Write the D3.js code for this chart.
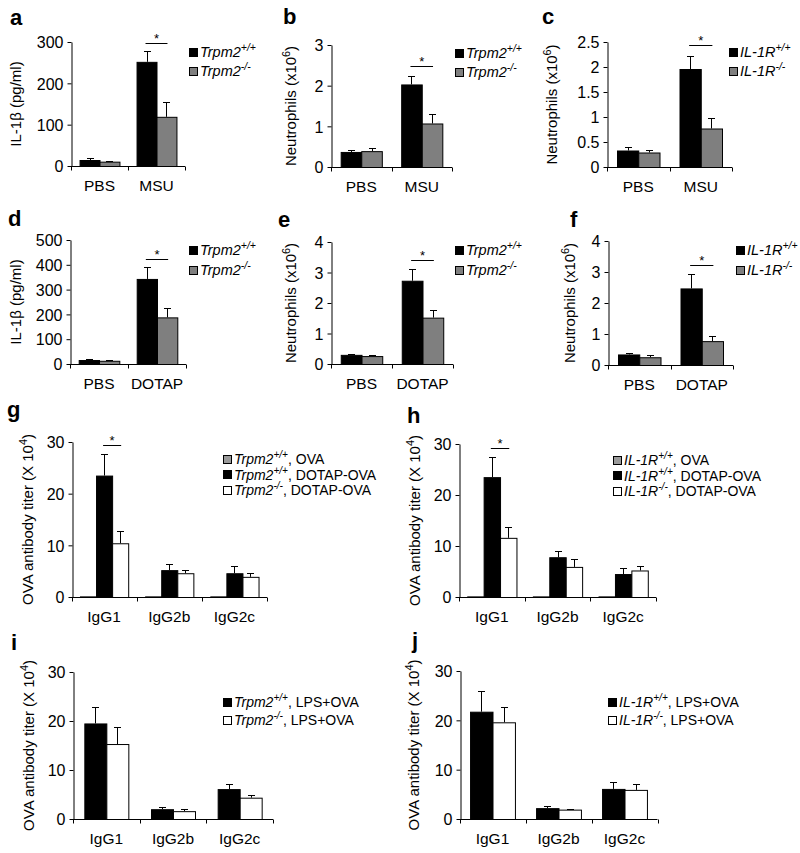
<!DOCTYPE html>
<html><head><meta charset="utf-8">
<script src="https://cdn.jsdelivr.net/npm/d3@7"></script>
<style>
body{margin:0;background:#fff}
svg{display:block}
text{font-family:"Liberation Sans",Arial,Helvetica,sans-serif;fill:#000}
</style>
</head><body>
<svg id="fig" width="800" height="853"></svg>
<script>
// ---------- DATA ----------
const catsMSU = ["PBS", "MSU"];
const catsDOTAP = ["PBS", "DOTAP"];
const catsIg = ["IgG1", "IgG2b", "IgG2c"];

const ticksA = [0, 100, 200, 300];
const ticksB = [0, 1, 2, 3];
const ticksC = [0, 0.5, 1, 1.5, 2, 2.5];
const ticksD = [0, 100, 200, 300, 400, 500];
const ticksEF = [0, 1, 2, 3, 4];
const ticksTiter = [0, 10, 20, 30];

const aWT = [14.5, 252], aWTerr = [4, 27], aKO = [10.5, 119], aKOerr = [2.3, 35];
const bWT = [0.37, 2.03], bWTerr = [0.05, 0.21], bKO = [0.39, 1.07], bKOerr = [0.07, 0.23];
const cWT = [0.33, 1.96], cWTerr = [0.07, 0.26], cKO = [0.29, 0.77], cKOerr = [0.06, 0.22];
const dWT = [16, 343], dWTerr = [4, 47], dKO = [13, 188], dKOerr = [4, 37];
const eWT = [0.30, 2.73], eWTerr = [0.03, 0.38], eKO = [0.26, 1.52], eKOerr = [0.04, 0.25];
const fWT = [0.34, 2.47], fWTerr = [0.04, 0.46], fKO = [0.25, 0.77], fKOerr = [0.06, 0.15];

const gOVA = [0.12, 0.12, 0.12];
const gWT = [23.5, 5.2, 4.6], gWTerr = [4.1, 1.2, 1.4];
const gKO = [10.4, 4.6, 3.9], gKOerr = [2.4, 0.6, 0.7];
const hOVA = [0.12, 0.12, 0.12];
const hWT = [23.5, 7.8, 4.5], hWTerr = [4.0, 1.2, 1.2];
const hKO = [11.6, 5.9, 5.2], hKOerr = [2.1, 1.5, 0.9];
const iWT = [19.5, 2.0, 6.1], iWTerr = [3.3, 0.4, 1.0];
const iKO = [15.3, 1.6, 4.35], iKOerr = [3.5, 0.4, 0.65];
const jWT = [21.75, 2.2, 6.1], jWTerr = [4.2, 0.4, 1.3];
const jKO = [19.6, 1.9, 5.9], jKOerr = [3.2, 0.2, 1.1];

// ---------- TEXT PARTS ----------
const trpWT = [{t:"Trpm2", i:1}, {t:"+/+", i:1, sup:1}];
const trpKO = [{t:"Trpm2", i:1}, {t:"-/-", i:1, sup:1}];
const ilWT = [{t:"IL-1R", i:1}, {t:"+/+", i:1, sup:1}];
const ilKO = [{t:"IL-1R", i:1}, {t:"-/-", i:1, sup:1}];
const ylIL = [{t:"IL-1β (pg/ml)"}];
const ylNeu = [{t:"Neutrophils (x10"}, {t:"6", sup:1}, {t:")"}];
const ylOVA = [{t:"OVA antibody titer (X 10"}, {t:"4", sup:1}, {t:")"}];

const BLACK = "#000000", GRAY = "#7f7f7f", WHITE = "#ffffff", LGRAY = "#9a9a9a";

const svg = d3.select("#fig");

function addParts(text, parts, fs) {
  let shifted = false;
  parts.forEach(p => {
    const t = text.append("tspan").text(p.t);
    if (p.i) t.attr("font-style", "italic");
    if (p.sup) { t.attr("font-size", fs * 0.72).attr("dy", -fs * 0.4); shifted = true; }
    else if (shifted) { t.attr("dy", fs * 0.4); shifted = false; }
  });
}

function drawPanel(c) {
  const g = svg.append("g");
  const x = d3.scaleBand().domain(c.cats).range(c.xr).paddingInner(c.pad).paddingOuter(c.pad / 2);
  const xs = d3.scaleBand().domain(c.series.map(s => s.key)).range([0, x.bandwidth()]);
  const y = d3.scaleLinear().domain([0, c.ymax]).range(c.yr);

  // bars + error bars
  c.series.forEach(s => {
    const data = c.cats.map((cat, i) => ({cat, v: s.vals[i], e: s.errs ? s.errs[i] : 0}));
    const sg = g.append("g");
    sg.selectAll("rect").data(data).join("rect")
      .attr("x", d => x(d.cat) + xs(s.key) + 0.5)
      .attr("y", d => y(d.v) + 0.5)
      .attr("width", xs.bandwidth())
      .attr("height", d => Math.max(0, y(0) - y(d.v)))
      .attr("fill", s.fill).attr("stroke", "#000").attr("stroke-width", 1);
    const eb = data.filter(d => d.e > 0);
    const cx = d => Math.round(x(d.cat) + xs(s.key) + xs.bandwidth() / 2) + 0.5;
    sg.selectAll("line.v").data(eb).join("line").attr("class", "v")
      .attr("x1", cx).attr("x2", cx)
      .attr("y1", d => y(d.v)).attr("y2", d => Math.round(y(d.v + d.e)) + 0.5)
      .attr("stroke", "#000").attr("stroke-width", 1);
    sg.selectAll("line.c").data(eb).join("line").attr("class", "c")
      .attr("x1", d => cx(d) - 3.5).attr("x2", d => cx(d) + 3.5)
      .attr("y1", d => Math.round(y(d.v + d.e)) + 0.5).attr("y2", d => Math.round(y(d.v + d.e)) + 0.5)
      .attr("stroke", "#000").attr("stroke-width", 1);
  });

  // y axis
  const ya = d3.axisLeft(y).tickValues(c.ticks).tickSize(4).tickSizeOuter(0).tickPadding(4)
    .tickFormat(d3.format("~g"));
  const yg = g.append("g").attr("transform", `translate(${Math.round(c.xr[0]) + 0.5},0)`).call(ya);
  yg.selectAll("text").attr("font-size", c.tfs).attr("font-family", null).attr("dy", "0.36em");
  yg.attr("font-family", null);
  yg.selectAll("path,line").attr("stroke", "#000");

  // x axis
  const y0 = Math.round(y(0)) + 0.5;
  g.append("line").attr("x1", c.xr[0]).attr("x2", c.xr[1]).attr("y1", y0).attr("y2", y0)
    .attr("stroke", "#000");
  const bounds = d3.range(c.cats.length + 1).map(i => Math.round(c.xr[0] + i * x.step()) + 0.5);
  g.selectAll("line.xt").data(bounds).join("line").attr("class", "xt")
    .attr("x1", d => d).attr("x2", d => d).attr("y1", y0).attr("y2", y0 + 4).attr("stroke", "#000");
  g.selectAll("text.xl").data(c.cats).join("text").attr("class", "xl")
    .attr("x", d => x(d) + x.bandwidth() / 2).attr("y", y(0) + 25)
    .attr("text-anchor", "middle").attr("font-size", c.xfs).text(d => d);

  // y title
  const yt = g.append("text")
    .attr("transform", `translate(${c.ytx},${(c.yr[0] + c.yr[1]) / 2}) rotate(-90)`)
    .attr("text-anchor", "middle").attr("font-size", 15);
  addParts(yt, c.ytitle, 15);

  // panel label
  g.append("text").attr("x", c.lab[1]).attr("y", c.lab[2]).attr("font-size", 22)
    .attr("font-weight", "bold").text(c.lab[0]);

  // legend
  c.legend.items.forEach((it, i) => {
    const ly = c.legend.y + i * c.legend.dy;
    g.append("rect").attr("x", c.legend.x + 0.5).attr("y", Math.round(ly - 4.5) + 0.5)
      .attr("width", 8).attr("height", 8).attr("fill", it.fill).attr("stroke", "#000");
    const t = g.append("text").attr("x", c.legend.x + 11).attr("y", ly + 5).attr("font-size", c.legend.fs);
    addParts(t, it.parts, c.legend.fs);
  });

  // significance
  if (c.sig) {
    const x1 = x(c.sig.cat) + xs(c.sig.from) + xs.bandwidth() / 2;
    const x2 = x(c.sig.cat) + xs(c.sig.to) + xs.bandwidth() / 2;
    const sy = Math.round(y(c.sig.v)) + 0.5;
    g.append("line").attr("x1", x1 - 1).attr("x2", x2 + 1).attr("y1", sy).attr("y2", sy).attr("stroke", "#000");
    g.append("text").attr("x", (x1 + x2) / 2).attr("y", sy - 0.5).attr("text-anchor", "middle")
      .attr("font-size", 13).text("*");
  }
}

const TFS = 16, XFS = 15.5;

drawPanel({lab:["a",10,25], cats:catsMSU, ticks:ticksA, ymax:300, xr:[71,185], yr:[166,42], pad:0.3,
  tfs:TFS, xfs:XFS, ytx:21, ytitle:ylIL,
  series:[{key:"wt", fill:BLACK, vals:aWT, errs:aWTerr},{key:"ko", fill:GRAY, vals:aKO, errs:aKOerr}],
  legend:{x:189, y:52, dy:19, fs:14.5, items:[{fill:BLACK, parts:trpWT},{fill:GRAY, parts:trpKO}]},
  sig:{cat:"MSU", from:"wt", to:"ko", v:298}});

drawPanel({lab:["b",283,24], cats:catsMSU, ticks:ticksB, ymax:3, xr:[331,452], yr:[167,45], pad:0.32,
  tfs:TFS, xfs:XFS, ytx:296, ytitle:ylNeu,
  series:[{key:"wt", fill:BLACK, vals:bWT, errs:bWTerr},{key:"ko", fill:GRAY, vals:bKO, errs:bKOerr}],
  legend:{x:455, y:53, dy:19, fs:14.5, items:[{fill:BLACK, parts:trpWT},{fill:GRAY, parts:trpKO}]},
  sig:{cat:"MSU", from:"wt", to:"ko", v:2.48}});

drawPanel({lab:["c",542,24], cats:catsMSU, ticks:ticksC, ymax:2.5, xr:[607,732], yr:[167,42], pad:0.32,
  tfs:TFS, xfs:XFS, ytx:557, ytitle:ylNeu,
  series:[{key:"wt", fill:BLACK, vals:cWT, errs:cWTerr},{key:"ko", fill:GRAY, vals:cKO, errs:cKOerr}],
  legend:{x:729, y:52, dy:19, fs:14.5, items:[{fill:BLACK, parts:ilWT},{fill:GRAY, parts:ilKO}]},
  sig:{cat:"MSU", from:"wt", to:"ko", v:2.44}});

drawPanel({lab:["d",8,226], cats:catsDOTAP, ticks:ticksD, ymax:500, xr:[70,186], yr:[364,240], pad:0.3,
  tfs:TFS, xfs:XFS, ytx:21, ytitle:ylIL,
  series:[{key:"wt", fill:BLACK, vals:dWT, errs:dWTerr},{key:"ko", fill:GRAY, vals:dKO, errs:dKOerr}],
  legend:{x:189, y:250, dy:20, fs:14.5, items:[{fill:BLACK, parts:trpWT},{fill:GRAY, parts:trpKO}]},
  sig:{cat:"DOTAP", from:"wt", to:"ko", v:423}});

drawPanel({lab:["e",278,227], cats:catsDOTAP, ticks:ticksEF, ymax:4, xr:[331,453], yr:[364,242], pad:0.32,
  tfs:TFS, xfs:XFS, ytx:296, ytitle:ylNeu,
  series:[{key:"wt", fill:BLACK, vals:eWT, errs:eWTerr},{key:"ko", fill:GRAY, vals:eKO, errs:eKOerr}],
  legend:{x:455, y:250, dy:20, fs:14.5, items:[{fill:BLACK, parts:trpWT},{fill:GRAY, parts:trpKO}]},
  sig:{cat:"DOTAP", from:"wt", to:"ko", v:3.41}});

drawPanel({lab:["f",570,227], cats:catsDOTAP, ticks:ticksEF, ymax:4, xr:[608,733], yr:[365,241], pad:0.32,
  tfs:TFS, xfs:XFS, ytx:575, ytitle:ylNeu,
  series:[{key:"wt", fill:BLACK, vals:fWT, errs:fWTerr},{key:"ko", fill:GRAY, vals:fKO, errs:fKOerr}],
  legend:{x:736, y:250, dy:20, fs:14.5, items:[{fill:BLACK, parts:ilWT},{fill:GRAY, parts:ilKO}]},
  sig:{cat:"DOTAP", from:"wt", to:"ko", v:3.23}});

drawPanel({lab:["g",7,417], cats:catsIg, ticks:ticksTiter, ymax:30, xr:[71.5,267], yr:[597,442], pad:0.26,
  tfs:TFS, xfs:XFS, ytx:33, ytitle:ylOVA,
  series:[{key:"ova", fill:LGRAY, vals:gOVA},{key:"wt", fill:BLACK, vals:gWT, errs:gWTerr},{key:"ko", fill:WHITE, vals:gKO, errs:gKOerr}],
  legend:{x:223, y:459, dy:15.5, fs:14, items:[
    {fill:LGRAY, parts:trpWT.concat([{t:", OVA"}])},
    {fill:BLACK, parts:trpWT.concat([{t:", DOTAP-OVA"}])},
    {fill:WHITE, parts:trpKO.concat([{t:", DOTAP-OVA"}])}]},
  sig:{cat:"IgG1", from:"wt", to:"ko", v:29.4}});

drawPanel({lab:["h",407,423], cats:catsIg, ticks:ticksTiter, ymax:30, xr:[459,656], yr:[597,444], pad:0.25,
  tfs:TFS, xfs:XFS, ytx:420, ytitle:ylOVA,
  series:[{key:"ova", fill:LGRAY, vals:hOVA},{key:"wt", fill:BLACK, vals:hWT, errs:hWTerr},{key:"ko", fill:WHITE, vals:hKO, errs:hKOerr}],
  legend:{x:613, y:460, dy:15.5, fs:14, items:[
    {fill:LGRAY, parts:ilWT.concat([{t:", OVA"}])},
    {fill:BLACK, parts:ilWT.concat([{t:", DOTAP-OVA"}])},
    {fill:WHITE, parts:ilKO.concat([{t:", DOTAP-OVA"}])}]},
  sig:{cat:"IgG1", from:"wt", to:"ko", v:29.2}});

drawPanel({lab:["i",11,650], cats:catsIg, ticks:ticksTiter, ymax:30, xr:[73,273], yr:[819,672], pad:0.34,
  tfs:TFS, xfs:XFS, ytx:34, ytitle:ylOVA,
  series:[{key:"wt", fill:BLACK, vals:iWT, errs:iWTerr},{key:"ko", fill:WHITE, vals:iKO, errs:iKOerr}],
  legend:{x:223, y:702, dy:18, fs:14, items:[
    {fill:BLACK, parts:trpWT.concat([{t:", LPS+OVA"}])},
    {fill:WHITE, parts:trpKO.concat([{t:", LPS+OVA"}])}]}});

drawPanel({lab:["j",412,648], cats:catsIg, ticks:ticksTiter, ymax:30, xr:[459.5,657.5], yr:[819,671], pad:0.32,
  tfs:TFS, xfs:XFS, ytx:419, ytitle:ylOVA,
  series:[{key:"wt", fill:BLACK, vals:jWT, errs:jWTerr},{key:"ko", fill:WHITE, vals:jKO, errs:jKOerr}],
  legend:{x:608, y:702, dy:18, fs:14, items:[
    {fill:BLACK, parts:ilWT.concat([{t:", LPS+OVA"}])},
    {fill:WHITE, parts:ilKO.concat([{t:", LPS+OVA"}])}]}});
</script>
</body></html>
